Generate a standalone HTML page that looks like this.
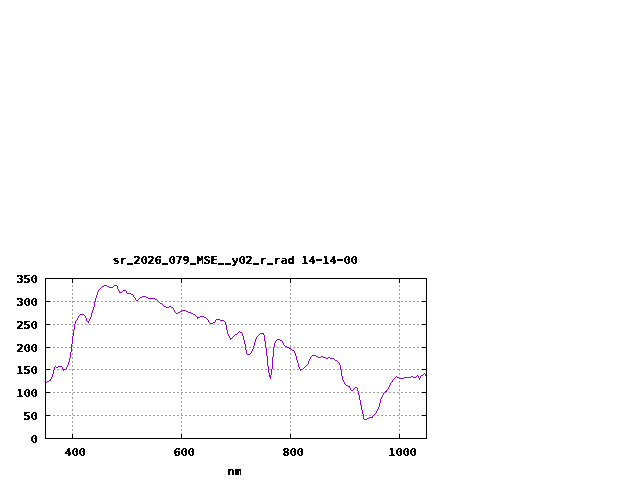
<!DOCTYPE html>
<html lang="en">
<head>
<meta charset="utf-8">
<title>sr_2026_079_MSE__y02_r_rad 14-14-00</title>
<style>
html,body{margin:0;padding:0;background:#fff;}
body{width:640px;height:480px;overflow:hidden;}
svg{display:block;}
text{font-family:"DejaVu Sans Mono","Liberation Mono",monospace;font-weight:bold;font-size:11px;fill:#000;stroke:#000;stroke-width:0.22px;white-space:pre;}
.u{font-size:6.79px;stroke-width:1.37px;}
.z{stroke-width:0.04px;}
.grid{stroke:#a0a0a0;stroke-width:1;stroke-dasharray:2 2;fill:none;shape-rendering:crispEdges;}
.frame{stroke:#000;stroke-width:1;fill:none;shape-rendering:crispEdges;}
.curve{fill:#9400d3;stroke:none;shape-rendering:crispEdges;}
</style>
</head>
<body>
<svg width="640" height="480" viewBox="0 0 640 480">
<defs><filter id="bin" x="0" y="0" width="640" height="480" filterUnits="userSpaceOnUse" color-interpolation-filters="sRGB"><feComponentTransfer><feFuncA type="discrete" tableValues="0 1"/></feComponentTransfer></filter></defs>
<rect x="0" y="0" width="640" height="480" fill="#ffffff"/>
<g class="grid">
<line x1="45" y1="415.5" x2="427" y2="415.5"/>
<line x1="45" y1="392.5" x2="427" y2="392.5"/>
<line x1="45" y1="369.5" x2="427" y2="369.5"/>
<line x1="45" y1="347.5" x2="427" y2="347.5"/>
<line x1="45" y1="324.5" x2="427" y2="324.5"/>
<line x1="45" y1="301.5" x2="427" y2="301.5"/>
<line x1="72.5" y1="281" x2="72.5" y2="439" />
<line x1="181.5" y1="281" x2="181.5" y2="439" />
<line x1="290.5" y1="281" x2="290.5" y2="439" />
<line x1="399.5" y1="281" x2="399.5" y2="439" />
</g>
<path class="curve" d="M46 382h1v1h-1zM47 381h2v1h-2zM49 380h1v1h-1zM50 379h1v2h-1zM51 377h1v2h-1zM52 374h1v3h-1zM53 370h1v4h-1zM54 367h1v3h-1zM55 366h1v1h-1zM56 367h2v1h-2zM58 366h4v1h-4zM62 367h1v2h-1zM63 369h1v2h-1zM64 369h2v1h-2zM66 367h1v2h-1zM67 365h1v2h-1zM68 362h1v3h-1zM69 358h1v4h-1zM70 352h1v6h-1zM71 344h1v8h-1zM72 336h1v8h-1zM73 330h1v6h-1zM74 324h1v6h-1zM75 321h1v3h-1zM76 320h1v1h-1zM77 318h1v2h-1zM78 316h1v2h-1zM79 315h1v1h-1zM80 314h4v1h-4zM84 315h1v1h-1zM85 316h1v2h-1zM86 318h1v3h-1zM87 321h1v1h-1zM88 321h1v2h-1zM89 319h1v2h-1zM90 317h1v2h-1zM91 313h1v4h-1zM92 310h1v3h-1zM93 307h1v3h-1zM94 302h1v5h-1zM95 298h1v4h-1zM96 295h1v3h-1zM97 292h1v3h-1zM98 290h1v2h-1zM99 289h1v1h-1zM100 288h1v1h-1zM101 287h1v1h-1zM102 286h2v1h-2zM104 285h3v1h-3zM107 286h2v1h-2zM109 287h4v1h-4zM113 286h1v1h-1zM114 285h3v1h-3zM117 286h1v3h-1zM118 289h1v2h-1zM119 291h1v2h-1zM120 292h2v1h-2zM122 291h1v1h-1zM123 290h3v1h-3zM126 291h1v2h-1zM127 293h4v1h-4zM131 294h2v1h-2zM133 295h1v2h-1zM134 297h1v1h-1zM135 298h1v2h-1zM136 300h2v1h-2zM138 299h1v1h-1zM139 298h1v1h-1zM140 297h2v1h-2zM142 296h4v1h-4zM146 297h2v1h-2zM148 298h7v1h-7zM155 299h2v1h-2zM157 300h1v1h-1zM158 301h1v1h-1zM159 302h1v1h-1zM160 303h2v1h-2zM162 304h1v1h-1zM163 305h1v1h-1zM164 306h2v1h-2zM166 307h3v1h-3zM169 306h2v1h-2zM171 307h2v1h-2zM173 308h1v2h-1zM174 310h1v2h-1zM175 312h1v1h-1zM176 313h2v1h-2zM178 312h2v1h-2zM180 311h2v1h-2zM182 310h4v1h-4zM186 311h2v1h-2zM188 312h3v1h-3zM191 313h2v1h-2zM193 314h2v1h-2zM195 315h1v1h-1zM196 316h1v1h-1zM197 317h1v2h-1zM198 317h2v1h-2zM200 316h4v1h-4zM204 317h2v1h-2zM206 318h1v1h-1zM207 319h1v1h-1zM208 320h1v2h-1zM209 322h1v1h-1zM210 323h3v1h-3zM213 322h2v1h-2zM215 320h1v2h-1zM216 319h4v1h-4zM220 320h4v1h-4zM224 321h1v1h-1zM225 322h1v3h-1zM226 325h1v5h-1zM227 330h1v4h-1zM228 334h1v2h-1zM229 336h1v2h-1zM230 338h1v2h-1zM231 338h1v1h-1zM232 337h1v1h-1zM233 336h1v1h-1zM234 335h1v1h-1zM235 334h2v1h-2zM237 333h1v1h-1zM238 332h1v1h-1zM239 331h1v1h-1zM240 332h2v1h-2zM242 333h1v3h-1zM243 336h1v4h-1zM244 340h1v4h-1zM245 344h1v6h-1zM246 350h1v4h-1zM247 354h3v1h-3zM250 353h1v1h-1zM251 351h1v2h-1zM252 349h1v2h-1zM253 346h1v3h-1zM254 342h1v4h-1zM255 339h1v3h-1zM256 337h1v2h-1zM257 336h1v1h-1zM258 335h1v1h-1zM259 334h1v1h-1zM260 333h3v1h-3zM263 333h1v2h-1zM264 335h1v6h-1zM265 341h1v7h-1zM266 348h1v8h-1zM267 356h1v10h-1zM268 366h1v7h-1zM269 373h1v4h-1zM270 375h1v4h-1zM271 369h1v6h-1zM272 357h1v12h-1zM273 347h1v10h-1zM274 343h1v4h-1zM275 341h1v2h-1zM276 340h1v1h-1zM277 339h3v1h-3zM280 340h2v1h-2zM282 341h1v2h-1zM283 343h1v2h-1zM284 345h1v1h-1zM285 346h2v1h-2zM287 347h2v1h-2zM289 348h2v1h-2zM291 349h1v1h-1zM292 350h2v1h-2zM294 351h1v2h-1zM295 353h1v3h-1zM296 356h1v4h-1zM297 360h1v3h-1zM298 363h1v4h-1zM299 367h1v2h-1zM300 369h1v2h-1zM301 369h2v1h-2zM303 368h1v1h-1zM304 367h1v1h-1zM305 366h1v1h-1zM306 365h1v1h-1zM307 364h1v1h-1zM308 361h1v3h-1zM309 359h1v2h-1zM310 357h1v2h-1zM311 356h1v1h-1zM312 355h4v1h-4zM316 356h2v1h-2zM318 357h3v1h-3zM321 356h2v1h-2zM323 357h3v1h-3zM326 358h2v1h-2zM328 357h2v1h-2zM330 358h4v1h-4zM334 359h1v1h-1zM335 360h2v1h-2zM337 361h1v1h-1zM338 362h1v1h-1zM339 363h1v2h-1zM340 365h1v5h-1zM341 370h1v6h-1zM342 376h1v4h-1zM343 380h1v2h-1zM344 382h1v2h-1zM345 384h1v1h-1zM346 385h2v1h-2zM348 386h1v1h-1zM349 386h1v2h-1zM350 388h1v2h-1zM351 390h2v1h-2zM353 389h1v1h-1zM354 388h1v1h-1zM355 387h2v1h-2zM357 388h1v3h-1zM358 391h1v4h-1zM359 395h1v5h-1zM360 400h1v5h-1zM361 405h1v5h-1zM362 410h1v4h-1zM363 414h1v5h-1zM364 419h3v1h-3zM367 418h2v1h-2zM369 417h3v1h-3zM372 416h1v2h-1zM373 415h1v1h-1zM374 414h1v1h-1zM375 413h1v1h-1zM376 411h1v2h-1zM377 409h1v2h-1zM378 407h1v2h-1zM379 403h1v4h-1zM380 399h1v4h-1zM381 397h1v2h-1zM382 395h1v2h-1zM383 393h1v2h-1zM384 392h1v1h-1zM385 391h1v1h-1zM386 390h1v2h-1zM387 389h1v1h-1zM388 387h1v2h-1zM389 385h1v2h-1zM390 383h1v2h-1zM391 382h1v1h-1zM392 380h1v2h-1zM393 379h1v1h-1zM394 378h1v1h-1zM395 377h1v1h-1zM396 376h1v1h-1zM397 377h2v1h-2zM399 378h5v1h-5zM404 377h7v1h-7zM411 376h2v1h-2zM413 377h3v1h-3zM416 376h1v1h-1zM417 375h1v1h-1zM418 376h1v2h-1zM419 378h1v2h-1zM420 376h1v2h-1zM421 375h2v1h-2zM423 374h1v1h-1zM424 373h1v1h-1zM425 374h1v2h-1z"/>
<g class="frame">
<rect x="45.5" y="278.5" width="381" height="160"/>
<line x1="46" y1="415.5" x2="50" y2="415.5"/>
<line x1="422" y1="415.5" x2="426" y2="415.5"/>
<line x1="46" y1="392.5" x2="50" y2="392.5"/>
<line x1="422" y1="392.5" x2="426" y2="392.5"/>
<line x1="46" y1="369.5" x2="50" y2="369.5"/>
<line x1="422" y1="369.5" x2="426" y2="369.5"/>
<line x1="46" y1="347.5" x2="50" y2="347.5"/>
<line x1="422" y1="347.5" x2="426" y2="347.5"/>
<line x1="46" y1="324.5" x2="50" y2="324.5"/>
<line x1="422" y1="324.5" x2="426" y2="324.5"/>
<line x1="46" y1="301.5" x2="50" y2="301.5"/>
<line x1="422" y1="301.5" x2="426" y2="301.5"/>
<line x1="72.5" y1="279" x2="72.5" y2="283"/>
<line x1="72.5" y1="434" x2="72.5" y2="438"/>
<line x1="181.5" y1="279" x2="181.5" y2="283"/>
<line x1="181.5" y1="434" x2="181.5" y2="438"/>
<line x1="290.5" y1="279" x2="290.5" y2="283"/>
<line x1="290.5" y1="434" x2="290.5" y2="438"/>
<line x1="399.5" y1="279" x2="399.5" y2="283"/>
<line x1="399.5" y1="434" x2="399.5" y2="438"/>
</g>
<g filter="url(#bin)">
<text transform="scale(1.100 1)" x="102.36 108.73 116.14 121.45 127.64 134.18 140.55 147.96 153.09 159.64 166.00 173.41 178.73 185.09 191.45 198.87 205.23 210.55 216.73 223.27 230.68 236.00 243.41 248.73 255.09 261.45 267.82 274.18 280.55 284.96 293.27 299.64 304.05 312.18 318.55" y="264">sr<tspan class="u" dy="-1.28">_</tspan><tspan dy="1.28">2</tspan><tspan class="z">0</tspan>26<tspan class="u" dy="-1.28">_</tspan><tspan class="z" dy="1.28">0</tspan>79<tspan class="u" dy="-1.28">_</tspan><tspan dy="1.28">MSE</tspan><tspan class="u" dy="-1.28">__</tspan><tspan dy="1.28">y</tspan><tspan class="z">0</tspan>2<tspan class="u" dy="-1.28">_</tspan><tspan dy="1.28">r</tspan><tspan class="u" dy="-1.28">_</tspan><tspan dy="1.28">rad 14</tspan><tspan dy="-0.80" textLength="9.93" lengthAdjust="spacingAndGlyphs">-</tspan><tspan dy="0.80">14</tspan><tspan dy="-0.80" textLength="9.93" lengthAdjust="spacingAndGlyphs">-</tspan><tspan class="z" dy="0.80">00</tspan></text>
<text transform="scale(1.100 1)" x="27.64" y="443"><tspan class="z">0</tspan></text>
<text transform="scale(1.100 1)" x="21.45 27.64" y="420">5<tspan class="z">0</tspan></text>
<text transform="scale(1.100 1)" x="15.09 21.27 27.64" y="397">1<tspan class="z">00</tspan></text>
<text transform="scale(1.100 1)" x="15.09 21.45 27.64" y="374">15<tspan class="z">0</tspan></text>
<text transform="scale(1.100 1)" x="15.09 21.27 27.64" y="352">2<tspan class="z">00</tspan></text>
<text transform="scale(1.100 1)" x="15.09 21.45 27.64" y="329">25<tspan class="z">0</tspan></text>
<text transform="scale(1.100 1)" x="15.09 21.27 27.64" y="306">3<tspan class="z">00</tspan></text>
<text transform="scale(1.100 1)" x="15.09 21.45 27.64" y="283">35<tspan class="z">0</tspan></text>
<text transform="scale(1.100 1)" x="58.73 64.91 71.27" y="456">4<tspan class="z">00</tspan></text>
<text transform="scale(1.100 1)" x="157.82 164.00 170.36" y="456">6<tspan class="z">00</tspan></text>
<text transform="scale(1.100 1)" x="256.91 263.09 269.45" y="456">8<tspan class="z">00</tspan></text>
<text transform="scale(1.100 1)" x="353.27 359.45 365.82 372.18" y="456">1<tspan class="z">000</tspan></text>
<text transform="scale(1.100 1)" x="206.91 213.27" y="475">nm</text>
</g>
</svg>
</body>
</html>
